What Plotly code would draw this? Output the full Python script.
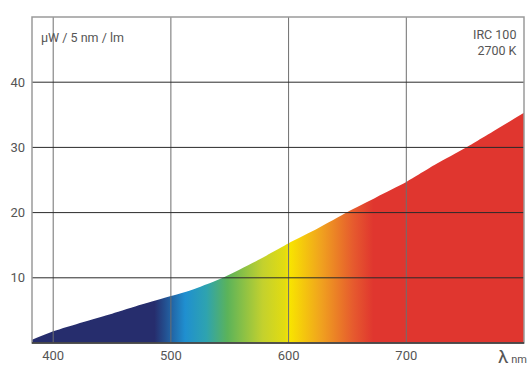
import plotly.graph_objects as go

# spectral power distribution
wavelength = [382, 400, 425, 450, 475, 500, 520, 545, 575, 600, 625, 650, 675, 700, 725, 750, 775, 800]
power = [0.5, 1.8, 3.2, 4.5, 5.9, 7.2, 8.3, 10.1, 12.8, 15.3, 17.6, 20.1, 22.4, 24.7, 27.4, 29.9, 32.6, 35.3]

x_ticks = [400, 500, 600, 700]
y_ticks = [10, 20, 30, 40]

# colour of the fill along the wavelength axis
stop_nm = [382, 486, 512, 530, 548, 578, 597, 601, 628, 655, 672, 800]
stop_col = ['#262d6d', '#262d6d', '#1f8fd0', '#2ea3b0', '#5bb35a', '#c3d12e', '#e3dc10',
            '#f8e400', '#f0a11f', '#e65a2e', '#e0362f', '#e0362f']

x0, x1 = 382, 800
cscale = [[(n - x0) / (x1 - x0), c] for n, c in zip(stop_nm, stop_col)]

fig = go.Figure(go.Scatter(
    x=wavelength, y=power, mode='lines', line=dict(width=0, shape='spline', smoothing=0.6),
    fill='tozeroy',
    fillgradient=dict(type='horizontal', colorscale=cscale, start=x0, stop=x1),
    hoverinfo='skip'))

# grid drawn over the fill, like the original
for t in x_ticks:
    fig.add_shape(type='line', xref='x', yref='paper', x0=t, x1=t, y0=0, y1=1,
                  line=dict(color='#6e6e6e', width=1), layer='above')
for t in y_ticks:
    fig.add_shape(type='line', xref='paper', yref='y', x0=0, x1=1, y0=t, y1=t,
                  line=dict(color='#2a2a2a', width=1), layer='above')
fig.add_shape(type='rect', xref='paper', yref='paper', x0=0, x1=1, y0=0, y1=1,
              line=dict(color='#9a9a9a', width=1.5), layer='above')
fig.add_shape(type='line', xref='paper', yref='paper', x0=0, x1=1, y0=0, y1=0,
              line=dict(color='#333333', width=1.5), layer='above')

font = 'Liberation Sans Narrow, Arial Narrow, Roboto, sans-serif'

fig.add_annotation(text='µW / 5 nm / lm', xref='paper', yref='paper', x=0.015, y=0.965,
                   xanchor='left', yanchor='top', showarrow=False,
                   font=dict(family=font, size=12.5, color='#555555'))
fig.add_annotation(text='IRC 100<br>2700 K', xref='paper', yref='paper', x=0.99, y=0.975,
                   xanchor='right', yanchor='top', showarrow=False, align='right',
                   font=dict(family=font, size=12.5, color='#555555'))
fig.add_annotation(text='<span style="font-size:19px">λ</span> nm', xref='paper', yref='paper',
                   x=1.01, y=-0.04, xanchor='right', yanchor='middle', showarrow=False,
                   font=dict(family=font, size=11, color='#555555'))

fig.update_layout(
    width=531, height=367,
    margin=dict(l=32, r=7, t=17, b=24),
    paper_bgcolor='white', plot_bgcolor='white',
    showlegend=False,
    font=dict(family=font, size=13, color='#555555'),
    xaxis=dict(range=[x0, x1], tickvals=x_ticks, showgrid=False, zeroline=False,
               ticks='', ticklen=0, showline=False, fixedrange=True,
               ticklabelstandoff=3, automargin=False),
    yaxis=dict(range=[0, 50], tickvals=y_ticks, showgrid=False, zeroline=False,
               ticks='', showline=False, fixedrange=True,
               ticklabelstandoff=6, automargin=False),
)

fig.write_html("out.html", config={'displayModeBar': False},
               post_script="document.body.style.margin='0';")
